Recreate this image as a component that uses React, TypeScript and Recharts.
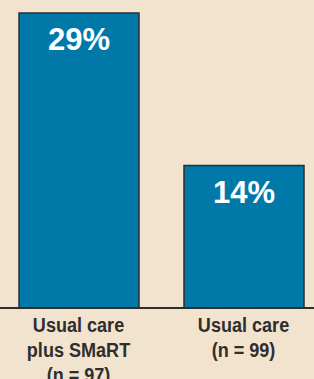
import React from "react";
import { BarChart, Bar, XAxis, YAxis, LabelList } from "recharts";

const categories = ["Usual care\nplus SMaRT\n(n = 97)", "Usual care\n(n = 99)"];
const values = [29, 14];
const valueLabels = ["29%", "14%"];

const data = categories.map((c, i) => ({ name: c, value: values[i], label: valueLabels[i] }));

const BG = "#f2e3ce";
const BLUE = "#0079a9";
const DARK = "#2e2e2e";

const Tick = (props: any) => {
  const { x, y, payload } = props;
  const lines = String(payload.value).split("\n");
  return (
    <g transform={`translate(${x}, ${y}) scale(0.86, 1)`}>
      {lines.map((l: string, i: number) => (
        <text
          key={i}
          x={0}
          y={16 + i * 25}
          textAnchor="middle"
          fill={DARK}
          style={{
            fontFamily: "'Liberation Sans', Arial, sans-serif",
            fontWeight: 700,
            fontSize: 21,
          }}
        >
          {l}
        </text>
      ))}
    </g>
  );
};

const ValueLabel = (props: any) => {
  const { x, y, width, index } = props;
  return (
    <text
      x={x + width / 2}
      y={y + 37}
      textAnchor="middle"
      fill="#ffffff"
      style={{ fontFamily: "'Liberation Sans', Arial, sans-serif", fontWeight: 700, fontSize: 31 }}
    >
      {valueLabels[index]}
    </text>
  );
};

export default function App() {
  return (
    <div
      style={{
        position: "fixed",
        left: 0,
        top: 0,
        width: 314,
        height: 379,
        overflow: "hidden",
        background: BG,
      }}
    >
      <div style={{ position: "absolute", left: -4, top: 0 }}>
        <BarChart width={330} height={379} data={data} margin={{ top: 13, right: 0, bottom: 0, left: 0 }}>
          <YAxis hide domain={[0, 29]} />
          <XAxis
            dataKey="name"
            height={71}
            axisLine={{ stroke: DARK, strokeWidth: 2 }}
            tickLine={false}
            tick={<Tick />}
            interval={0}
          />
          <Bar dataKey="value" fill={BLUE} stroke={DARK} strokeWidth={1.5} barSize={120} isAnimationActive={false}>
            <LabelList dataKey="label" content={<ValueLabel />} />
          </Bar>
        </BarChart>
      </div>
    </div>
  );
}
